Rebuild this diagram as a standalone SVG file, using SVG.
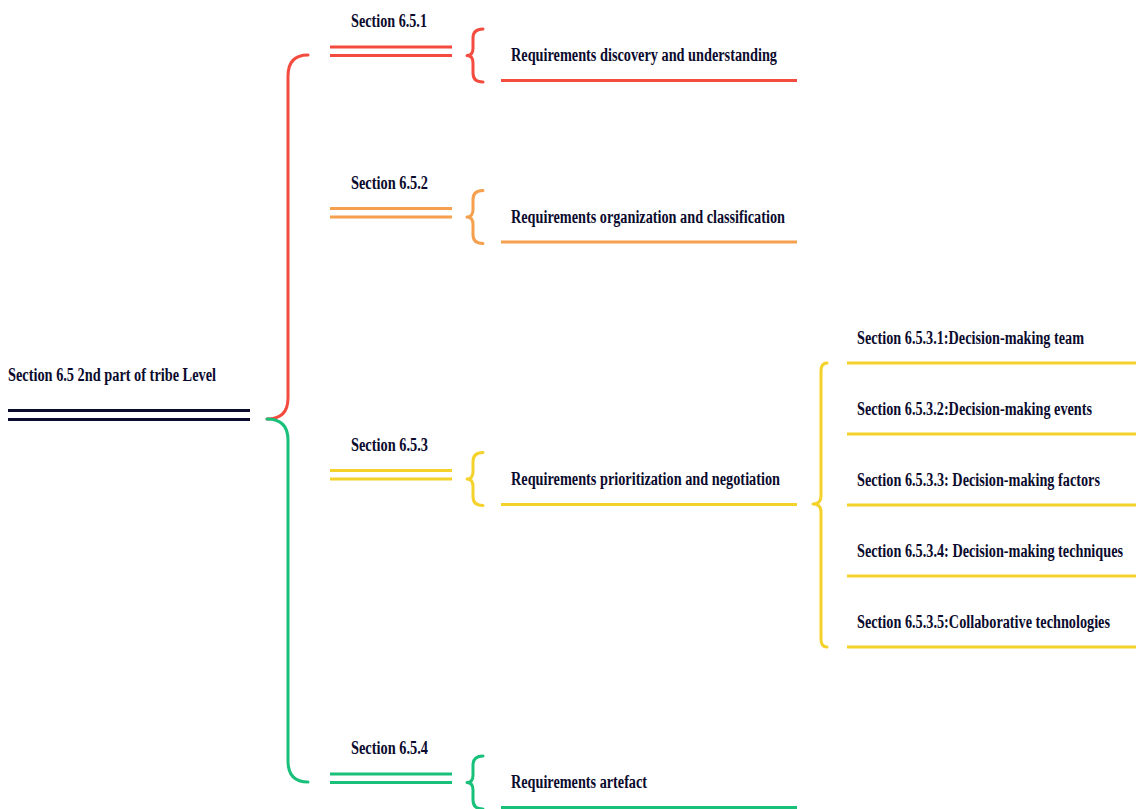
<svg xmlns="http://www.w3.org/2000/svg" width="1136" height="809" viewBox="0 0 1136 809">
  <style>
    text { font-family: "Liberation Serif", "Times New Roman", serif; font-weight: bold; font-size: 19px; fill: #0b0b2e; }
    .ln { fill: none; stroke-width: 3; stroke-linecap: butt; }
    .br { fill: none; stroke-width: 3; stroke-linecap: round; stroke-linejoin: round; }
    .red { stroke: #f44b3f; }
    .orange { stroke: #f5a04e; }
    .yellow { stroke: #f5d22b; }
    .green { stroke: #19c079; }
    .navy { stroke: #0b0b30; }
  </style>
  <rect width="1136" height="809" fill="#ffffff"/>

  <!-- connectors -->
  <g id="connectors">
    <path class="br red" d="M308,55 Q288,55 288,76 L288,398 Q288,419 267,419"/>
    <path class="br green" d="M267,419 Q288,419 288,440 L288,761 Q288,782 308,782"/>
    <path class="br yellow" d="M827,363 Q821,363 821,371 L821,496 Q821,504 813,504 Q821,504 821,512 L821,639 Q821,647 827,647"/>
  </g>

  <!-- labels are set in a condensed serif: scaled 0.76 horizontally -->
  <!-- root -->
  <g id="root">
    <text transform="translate(8,381) scale(0.76,1)" textLength="273.7" lengthAdjust="spacingAndGlyphs">Section 6.5 2nd part of tribe Level</text>
    <line class="ln navy" x1="8" y1="410.5" x2="250" y2="410.5" stroke-width="4.5"/>
    <line class="ln navy" x1="8" y1="419.5" x2="250" y2="419.5" stroke-width="4.5"/>
  </g>

  <!-- 6.5.1 -->
  <g id="s651">
    <text transform="translate(351,27) scale(0.76,1)" textLength="100" lengthAdjust="spacingAndGlyphs">Section 6.5.1</text>
    <line class="ln red" x1="330" y1="47" x2="452" y2="47"/>
    <line class="ln red" x1="330" y1="55.5" x2="452" y2="55.5"/>
    <path class="br red" d="M483,29 Q473,29 473,38 L473,48 Q473,55.5 467,55.5 Q473,55.5 473,63 L473,73 Q473,82 483,82"/>
    <text transform="translate(511,61) scale(0.76,1)" textLength="350" lengthAdjust="spacingAndGlyphs">Requirements discovery and understanding</text>
    <line class="ln red" x1="501" y1="80.5" x2="797" y2="80.5"/>
  </g>

  <!-- 6.5.2 -->
  <g id="s652">
    <text transform="translate(351,188.5) scale(0.76,1)" textLength="101.3" lengthAdjust="spacingAndGlyphs">Section 6.5.2</text>
    <line class="ln orange" x1="330" y1="208.5" x2="452" y2="208.5"/>
    <line class="ln orange" x1="330" y1="217" x2="452" y2="217"/>
    <path class="br orange" d="M483,190.5 Q473,190.5 473,199.5 L473,209.5 Q473,217 467,217 Q473,217 473,224.5 L473,234.5 Q473,243.5 483,243.5"/>
    <text transform="translate(511,222.5) scale(0.76,1)" textLength="360.5" lengthAdjust="spacingAndGlyphs">Requirements organization and classification</text>
    <line class="ln orange" x1="501" y1="242" x2="797" y2="242"/>
  </g>

  <!-- 6.5.3 -->
  <g id="s653">
    <text transform="translate(351,450.5) scale(0.76,1)" textLength="101.3" lengthAdjust="spacingAndGlyphs">Section 6.5.3</text>
    <line class="ln yellow" x1="330" y1="470.5" x2="452" y2="470.5"/>
    <line class="ln yellow" x1="330" y1="479" x2="452" y2="479"/>
    <path class="br yellow" d="M483,452.5 Q473,452.5 473,461.5 L473,471.5 Q473,479 467,479 Q473,479 473,486.5 L473,496.5 Q473,505.5 483,505.5"/>
    <text transform="translate(511,484.5) scale(0.76,1)" textLength="354" lengthAdjust="spacingAndGlyphs">Requirements prioritization and negotiation</text>
    <line class="ln yellow" x1="501" y1="504.5" x2="797" y2="504.5"/>
  </g>

  <!-- 6.5.3.x -->
  <g id="s6531">
    <text transform="translate(857,344) scale(0.76,1)" textLength="298.7" lengthAdjust="spacingAndGlyphs">Section 6.5.3.1:Decision-making team</text>
    <line class="ln yellow" x1="847" y1="363" x2="1136" y2="363"/>
  </g>
  <g id="s6532">
    <text transform="translate(857,415) scale(0.76,1)" textLength="309.2" lengthAdjust="spacingAndGlyphs">Section 6.5.3.2:Decision-making events</text>
    <line class="ln yellow" x1="847" y1="434" x2="1136" y2="434"/>
  </g>
  <g id="s6533">
    <text transform="translate(857,486) scale(0.76,1)" textLength="319.7" lengthAdjust="spacingAndGlyphs">Section 6.5.3.3: Decision-making factors</text>
    <line class="ln yellow" x1="847" y1="505" x2="1136" y2="505"/>
  </g>
  <g id="s6534">
    <text transform="translate(857,557) scale(0.76,1)" textLength="350" lengthAdjust="spacingAndGlyphs">Section 6.5.3.4: Decision-making techniques</text>
    <line class="ln yellow" x1="847" y1="576" x2="1136" y2="576"/>
  </g>
  <g id="s6535">
    <text transform="translate(857,628) scale(0.76,1)" textLength="332.9" lengthAdjust="spacingAndGlyphs">Section 6.5.3.5:Collaborative technologies</text>
    <line class="ln yellow" x1="847" y1="647" x2="1136" y2="647"/>
  </g>

  <!-- 6.5.4 -->
  <g id="s654">
    <text transform="translate(351,754) scale(0.76,1)" textLength="101.3" lengthAdjust="spacingAndGlyphs">Section 6.5.4</text>
    <line class="ln green" x1="330" y1="774" x2="452" y2="774"/>
    <line class="ln green" x1="330" y1="782.5" x2="452" y2="782.5"/>
    <path class="br green" d="M483,756 Q473,756 473,765 L473,775 Q473,782.5 467,782.5 Q473,782.5 473,790 L473,800 Q473,809 483,809"/>
    <text transform="translate(511,788) scale(0.76,1)" textLength="179" lengthAdjust="spacingAndGlyphs">Requirements artefact</text>
    <line class="ln green" x1="501" y1="807.5" x2="797" y2="807.5"/>
  </g>
</svg>
